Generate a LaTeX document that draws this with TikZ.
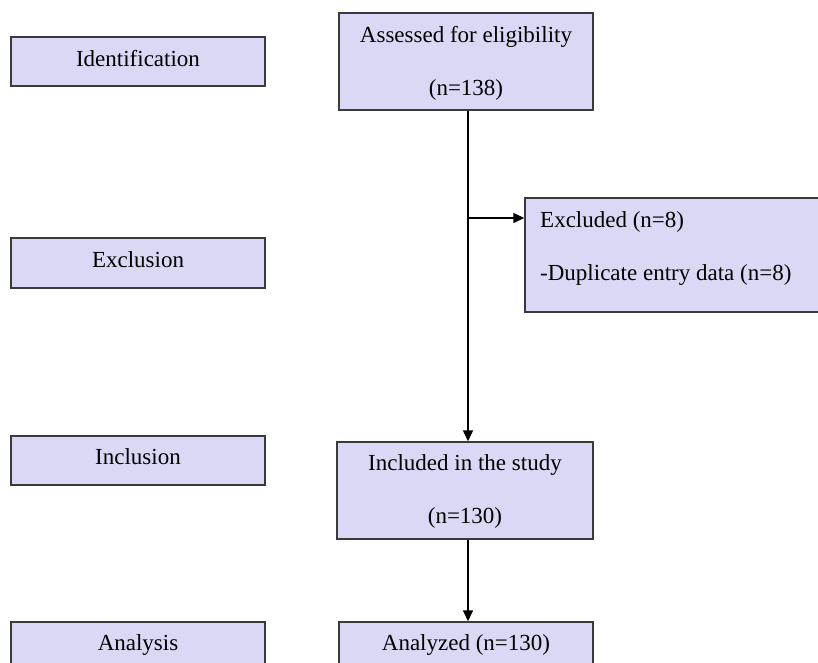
\documentclass[tikz,border=0pt]{standalone}
\usepackage{fontspec}
\setmainfont{Liberation Serif}
\usetikzlibrary{arrows.meta}
\definecolor{boxfill}{HTML}{D9D9F5}
\definecolor{boxline}{HTML}{3A3A3A}
\begin{document}
\begin{tikzpicture}[x=1pt,y=-1pt,
  box/.style={draw=boxline,fill=boxfill,line width=1.4pt,inner sep=0pt},
  txt/.style={inner sep=0pt,anchor=base,font=\fontsize{23}{26}\selectfont},
  arr/.style={line width=1.4pt,-{Triangle[length=11pt,width=10pt]}}]
\clip (0,0) rectangle (818,662);
\useasboundingbox (0,0) rectangle (818,662);
% left stage boxes
\node[box,minimum width=254pt,minimum height=49pt] (ident) at (138,61.5) {};
\node[txt] (identtxt) at (138,66) {Identification};
\node[box,minimum width=254pt,minimum height=50pt] (excl) at (138,263) {};
\node[txt] (excltxt) at (138,267) {Exclusion};
\node[box,minimum width=254pt,minimum height=49pt] (incl) at (138,460.5) {};
\node[txt] (incltxt) at (138,464) {Inclusion};
\node[box,minimum width=254pt,minimum height=60pt] (anal) at (138,652) {};
\node[txt] (analtxt) at (138,650) {Analysis};
% flow boxes
\node[box,minimum width=254pt,minimum height=97pt] (assess) at (466,61.5) {};
\node[txt] (assessA) at (466,42) {Assessed for eligibility};
\node[txt] (assessB) at (466,95) {(n=138)};
\node[box,minimum width=310pt,minimum height=114pt] (excluded) at (680,255) {};
\node[txt,anchor=base west] (exclA) at (540,227) {Excluded (n=8)};
\node[txt,anchor=base west] (exclB) at (540,280) {-Duplicate entry data (n=8)};
\node[box,minimum width=256pt,minimum height=97pt] (included) at (465,490.5) {};
\node[txt] (inclA) at (465,470) {Included in the study};
\node[txt] (inclB) at (465,523) {(n=130)};
\node[box,minimum width=254pt,minimum height=60pt] (analyzed) at (466,652) {};
\node[txt] (analyzedtxt) at (466,650) {Analyzed (n=130)};
% connectors
\coordinate (branch) at (468,218);
\draw[arr] (assess.south -| branch) -- (included.north -| branch);
\draw[arr] (branch) -- (excluded.west |- branch);
\draw[arr] (included.south -| branch) -- (analyzed.north -| branch);
\end{tikzpicture}
\end{document}
